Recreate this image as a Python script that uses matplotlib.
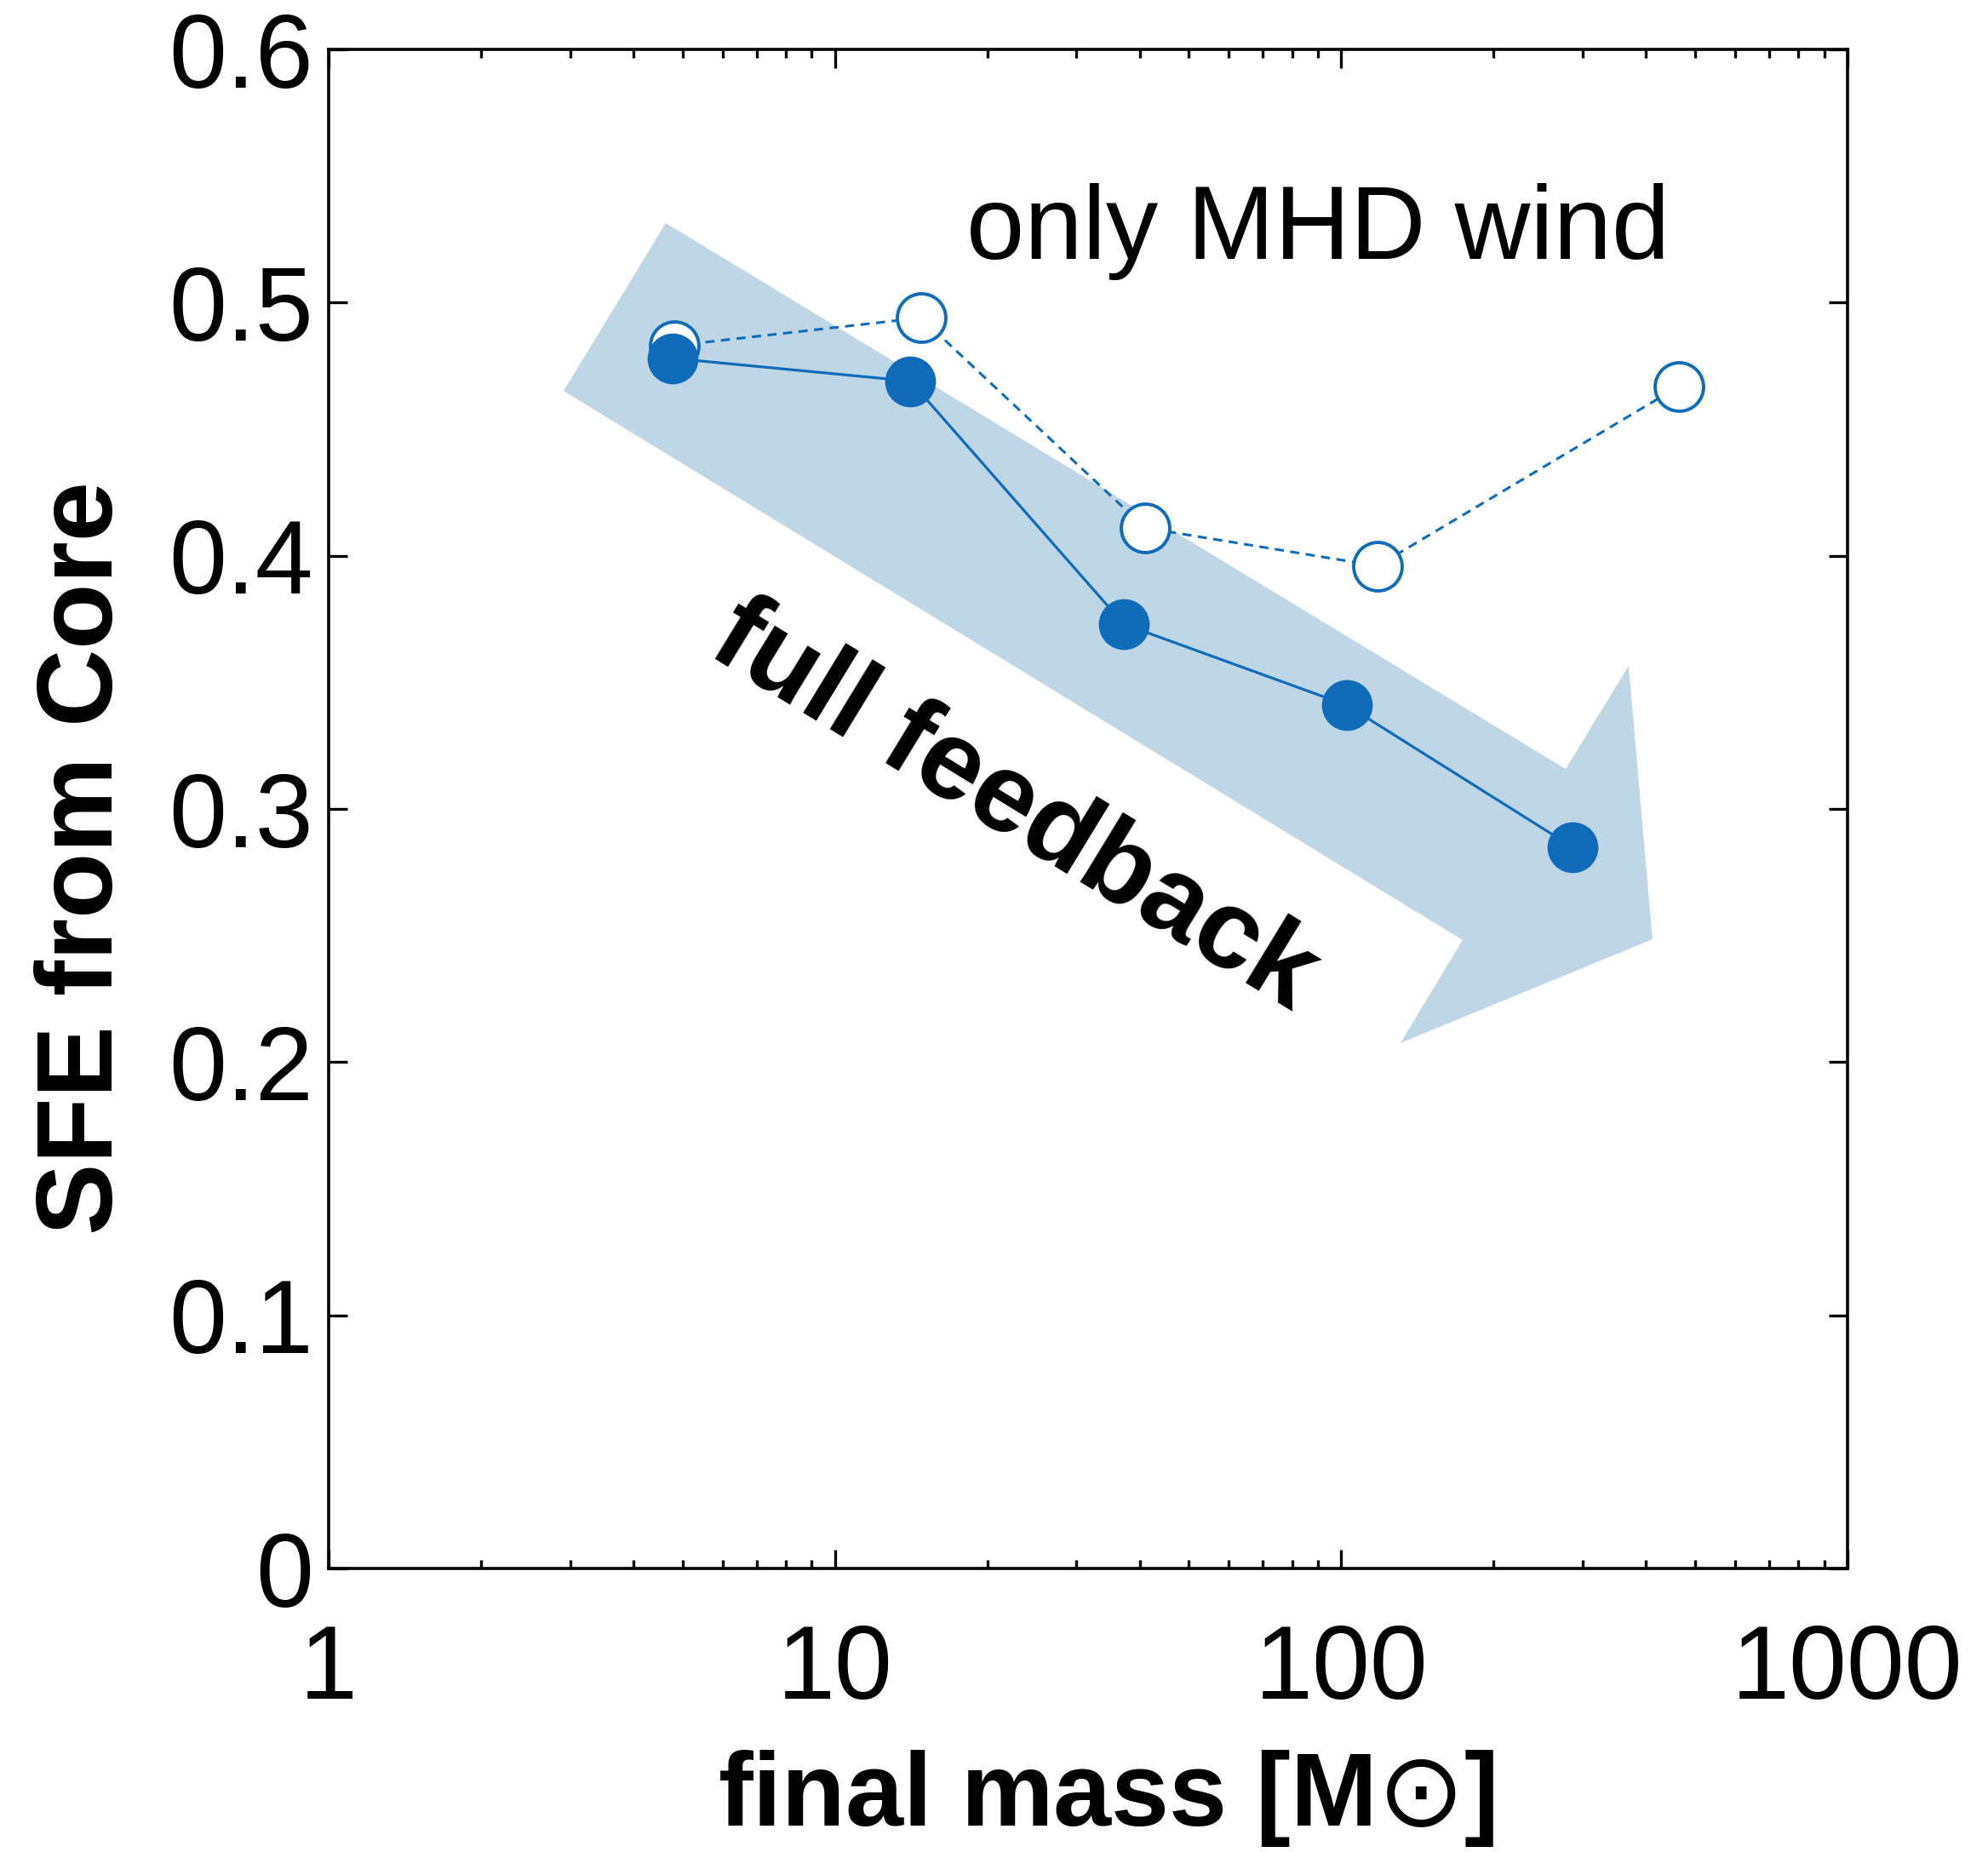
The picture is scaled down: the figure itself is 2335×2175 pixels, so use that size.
import matplotlib
matplotlib.use("Agg")
import matplotlib.pyplot as plt
from matplotlib.patches import Polygon
from matplotlib.ticker import FixedLocator, FixedFormatter, LogLocator, NullFormatter, NullLocator

plt.rcParams['font.family'] = ['Liberation Sans', 'DejaVu Sans']
plt.rcParams['mathtext.fontset'] = 'dejavusans'

# ---- data ----
full_mass = [4.78, 14.1, 37.2, 102.6, 286]
full_sfe = [0.478, 0.469, 0.373, 0.341, 0.285]
wind_mass = [4.82, 14.8, 41.0, 118, 465]
wind_sfe = [0.483, 0.494, 0.411, 0.396, 0.467]
xticks = [1, 10, 100, 1000]
xticklabels = ["1", "10", "100", "1000"]
yticks = [0, 0.1, 0.2, 0.3, 0.4, 0.5, 0.6]
yticklabels = ["0", "0.1", "0.2", "0.3", "0.4", "0.5", "0.6"]

blue = "#106CB8"
arrow_color = "#BED6E6"

fig = plt.figure(figsize=(23.35, 21.75), dpi=100)
ax = fig.add_axes([0.1653, 0.1531, 0.9293 - 0.1653, 0.9733 - 0.1531])

ax.set_xscale("log")
ax.set_xlim(1, 1000)
ax.set_ylim(0, 0.6)

# big trend arrow (axes-fraction coordinates)
arrow_pts = [(0.2220, 0.8857), (0.8145, 0.5263), (0.8559, 0.5942), (0.8716, 0.4142),
             (0.7057, 0.3459), (0.7466, 0.4137), (0.1547, 0.7752)]
ax.add_patch(Polygon(arrow_pts, closed=True, transform=ax.transAxes,
                     facecolor=arrow_color, edgecolor="none", zorder=1))

ax.plot(wind_mass, wind_sfe, linestyle=(0, (3.5, 2.5)), color=blue, lw=2.2,
        marker="o", markersize=41, markerfacecolor="white", markeredgecolor=blue,
        markeredgewidth=2.8, zorder=3)
ax.plot(full_mass, full_sfe, linestyle="-", color=blue, lw=2.3,
        marker="o", markersize=43, markerfacecolor=blue, markeredgecolor=blue,
        markeredgewidth=0, zorder=4)

ax.text(0.4198, 0.8621, "only MHD wind", transform=ax.transAxes, fontsize=88.5,
        ha="left", va="baseline", zorder=5)
ax.text(0.4410, 0.4850, "full feedback", transform=ax.transAxes, fontsize=95,
        fontweight="bold", ha="center", va="baseline", rotation=-31.4,
        rotation_mode="anchor", zorder=5)

# ticks
ax.xaxis.set_major_locator(FixedLocator(xticks))
ax.xaxis.set_major_formatter(FixedFormatter(xticklabels))
ax.xaxis.set_minor_locator(LogLocator(base=10, subs=range(2, 10)))
ax.xaxis.set_minor_formatter(NullFormatter())
ax.yaxis.set_major_locator(FixedLocator(yticks))
ax.yaxis.set_major_formatter(FixedFormatter(yticklabels))
ax.yaxis.set_minor_locator(NullLocator())

ax.tick_params(axis="both", which="both", direction="in", top=True, right=True)
ax.tick_params(axis="both", which="major", length=16, width=2.4, labelsize=88)
ax.tick_params(axis="both", which="minor", length=7.5, width=2.4)
ax.tick_params(axis="x", which="major", pad=46)
ax.tick_params(axis="y", which="major", pad=13)

for s in ax.spines.values():
    s.set_linewidth(2.6)

ax.set_xlabel("final mass [M$\\odot$]", fontsize=88, fontweight="bold")
ax.set_ylabel("SFE from Core", fontsize=91, fontweight="bold")
ax.xaxis.set_label_coords(0.512, -0.118)
ax.yaxis.set_label_coords(-0.128, 0.468)

fig.savefig("out.png", dpi=100)
